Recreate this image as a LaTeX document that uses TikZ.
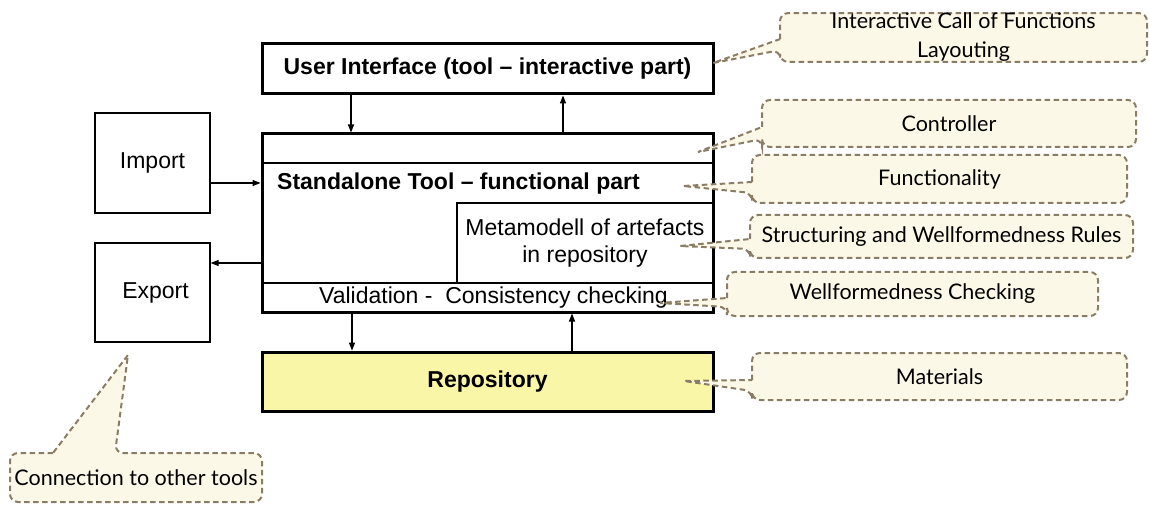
\documentclass[tikz,border=0pt]{standalone}
\usepackage{fontspec}
\setmainfont{Liberation Sans}
\newfontfamily\calfont{Lato}
\usetikzlibrary{arrows.meta,calc}
\pgfdeclarelayer{calloutlayer}
\pgfdeclarelayer{frontlayer}
\pgfsetlayers{main,calloutlayer,frontlayer}
\definecolor{callfill}{HTML}{FCF8E8}
\definecolor{calldraw}{HTML}{8A7D66}
\definecolor{repofill}{HTML}{FAF6A8}
\tikzset{
  thickbox/.style={draw, line width=3pt, inner sep=0pt, outer sep=1.5pt},
  thinbox/.style={draw, line width=1.2pt, inner sep=0pt, outer sep=0pt},
  boxtext/.style={font=\fontsize{23}{27}\selectfont, align=center},
  boldtext/.style={font=\fontsize{23}{27}\selectfont\bfseries, align=center},
  ctext/.style={font=\calfont\fontsize{21.5}{29}\selectfont, align=center, inner sep=0pt, outer sep=0pt},
  calloutline/.style={draw=calldraw, fill=callfill, line width=2pt, dash pattern=on 5.5pt off 3.5pt},
  arr/.style={line width=1.1pt, -{Triangle[length=8pt,width=6pt]}},
}
% left-pointing callout outline: #1 node, #2 tip, #3/#4 attach offsets from top
\newcommand\leftcallout[4]{%
  \path[calloutline, rounded corners=8pt]
    ($(#1.north west)+(0,#3)$) -- (#1.north west) -- (#1.north east)
    -- (#1.south east) -- (#1.south west) -- ($(#1.north west)+(0,#4)$)
    [sharp corners] -- (#2) -- cycle;}
\begin{document}
\begin{tikzpicture}[x=1pt,y=-1pt]
\useasboundingbox (0,0) rectangle (1149,505);

% ---- boxes
\node[thickbox, minimum width=451pt, minimum height=50pt, boldtext] (ui) at (487.5,69) {User Interface (tool – interactive part)};
\node[thickbox, minimum width=451pt, minimum height=178pt] (main) at (487.5,223) {};
\node[thinbox, minimum width=451pt, minimum height=29pt] (ctrl) at (487.5,148.5) {};
\node[thinbox, minimum width=256pt, minimum height=80pt, boxtext] (meta) at (585,243) {Metamodell of artefacts\\in repository};
\node[thinbox, minimum width=451pt, minimum height=29pt, boxtext] (valid) at (487.5,297.5) {\hspace{12pt}Validation -\ \ Consistency checking};
\node[boldtext, anchor=west, inner sep=0pt] (stand) at (277,184) {Standalone Tool – functional part};
\node[thickbox, fill=repofill, minimum width=451pt, minimum height=59pt, boldtext] (repo) at (487.5,381.5) {Repository};
\node[thinbox, outer sep=0.6pt, minimum width=115pt, minimum height=100pt, boxtext] (import) at (152.5,163) {Import};
\node[thinbox, outer sep=0.6pt, minimum width=115pt, minimum height=99pt, boxtext] (export) at (152.5,292.5) {\hspace{6pt}Export};

% ---- connector helper coordinates
\coordinate (a1) at (351,0);
\coordinate (a2) at (563,0);
\coordinate (a3) at (352,0);
\coordinate (a4) at (572,0);
\coordinate (h1) at (0,183);
\coordinate (h2) at (0,263);

\draw[arr] (ui.south -| a1) -- (main.north -| a1);
\draw[arr] (main.north -| a2) -- (ui.south -| a2);
\draw[arr] (main.south -| a3) -- (repo.north -| a3);
\draw[arr] (repo.north -| a4) -- (main.south -| a4);
\draw[arr] (import.east |- h1) -- (main.west |- h1);
\draw[arr] (main.west |- h2) -- (export.east |- h2);

% ---- callout tips
\coordinate (t1) at (713,63);
\coordinate (t2) at (698,152);
\coordinate (t3) at (683,186);
\coordinate (t4) at (680,246);
\coordinate (t5) at (660,303);
\coordinate (t6) at (684,381);
\coordinate (t7) at (128,355);

% ---- callout texts
\begin{pgfonlayer}{frontlayer}
\node[ctext, minimum width=367pt, minimum height=45pt] (c1) at (963.5,37.5) {Interactive Call of Functions\\Layouting};
\node[ctext, minimum width=374pt, minimum height=47pt] (c2) at (949,123.5) {Controller};
\node[ctext, minimum width=375pt, minimum height=48pt] (c3) at (939.5,179) {Functionality};
\node[ctext, minimum width=383pt, minimum height=43pt] (c4) at (941.5,236.5) {Structuring and Wellformedness Rules};
\node[ctext, minimum width=371pt, minimum height=44pt] (c5) at (912.5,294) {Wellformedness Checking};
\node[ctext, minimum width=375pt, minimum height=47pt] (c6) at (939.5,376.5) {Materials};
\node[ctext, minimum width=252pt, minimum height=49pt] (c7) at (136,477.5) {Connection to other tools};
\end{pgfonlayer}

% ---- callout outlines
\begin{pgfonlayer}{calloutlayer}
\leftcallout{c1}{t1}{26}{37}
\leftcallout{c2}{t2}{27}{39}
\leftcallout{c3}{t3}{27}{38}
\leftcallout{c4}{t4}{24}{34}
\leftcallout{c5}{t5}{26}{35}
\leftcallout{c6}{t6}{27}{38}
\path[calloutline, rounded corners=8pt]
  ($(c7.north west)+(43,0)$) -- (c7.north west) -- (c7.south west)
  -- (c7.south east) -- (c7.north east) -- ($(c7.north west)+(105,0)$)
  [sharp corners] -- (t7) -- cycle;
\end{pgfonlayer}
\end{tikzpicture}
\end{document}
